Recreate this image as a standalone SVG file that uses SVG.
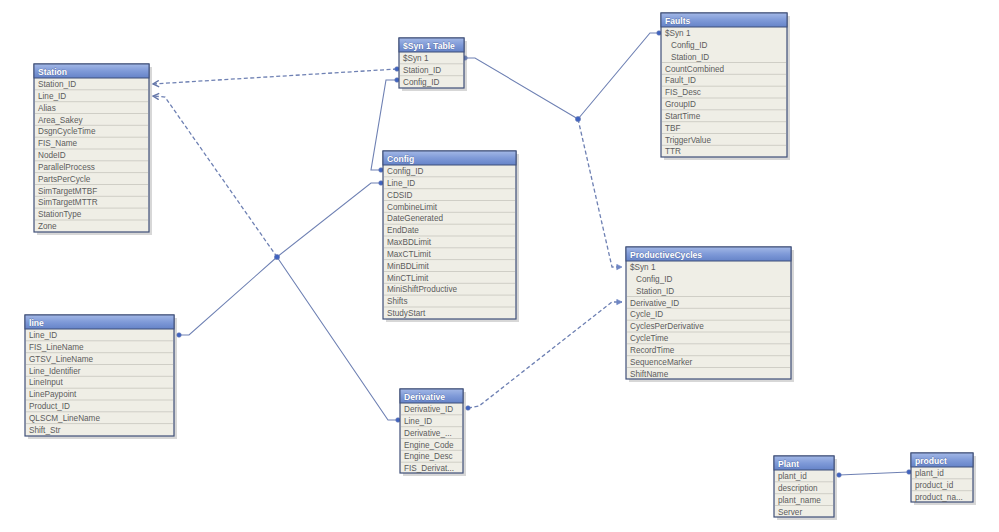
<svg xmlns="http://www.w3.org/2000/svg" width="999" height="532" viewBox="0 0 999 532">
<defs>
<linearGradient id="tg" x1="0" y1="0" x2="0" y2="1">
<stop offset="0" stop-color="#a3b8e6"/>
<stop offset="0.5" stop-color="#7f9ad8"/>
<stop offset="1" stop-color="#6583c8"/>
</linearGradient>
<marker id="arr" viewBox="0 0 8 8" refX="7" refY="4" markerWidth="8" markerHeight="8" markerUnits="userSpaceOnUse" orient="auto">
<path d="M1,0.8 L7,4 L1,7.2" fill="none" stroke="#6476a8" stroke-width="1.4"/>
</marker>
<marker id="arrf" viewBox="0 0 8 8" refX="7" refY="4" markerWidth="7" markerHeight="7" markerUnits="userSpaceOnUse" orient="auto">
<path d="M1,1 L7,4 L1,7 Z" fill="#6f86c4" stroke="#6f86c4" stroke-width="0.8"/>
</marker>
</defs>
<style>
.bg{fill:#ffffff}
.sh{fill:#9a9a9a;opacity:0.4}
.box{fill:#efeee6;stroke:#3f4f78;stroke-width:1.2}
.title{fill:url(#tg);stroke:#3f4f78;stroke-width:1}
.tt{font-family:"Liberation Sans",Arial,sans-serif;font-size:8.6px;font-weight:bold;fill:#ffffff;stroke:#3b4c7a;stroke-width:0.35;paint-order:stroke}
.rt{font-family:"Liberation Sans",Arial,sans-serif;font-size:8.2px;fill:#5c5c5c}
.sep{stroke:#cfcec6;stroke-width:1}
.ln{fill:none;stroke:#6e80b3;stroke-width:1.1}
.dl{fill:none;stroke:#6e80b3;stroke-width:1.3;stroke-dasharray:4,2.5}
.dot{fill:#3f63c0;stroke:#6e80b3;stroke-width:0.6}
</style>
<rect class="bg" x="0" y="0" width="999" height="532"/>

<g id="connectors">
<path class="dl" d="M397,69 L153,84" marker-end="url(#arr)"/>
<path class="ln" d="M397,80 L386,80 L371,170 L381,170"/>
<path class="ln" d="M179,335 L189,335 L277,257"/>
<path class="ln" d="M277,257 L371,183 L381,183"/>
<path class="ln" d="M277,257 L388,420 L398,420"/>
<path class="dl" d="M277,257 L165,97 L153,96" marker-end="url(#arr)"/>
<path class="ln" d="M465,58 L475,58 L578,119"/>
<path class="ln" d="M578,119 L650,33 L659,33"/>
<path class="dl" d="M578,119 L612,267 L622,267" marker-end="url(#arrf)"/>
<path class="dl" d="M468,408 L479,406 L612,302 L622,302" marker-end="url(#arrf)"/>
<path class="ln" d="M839,475 L909,472"/>
<circle class="dot" cx="397" cy="69" r="2.3"/>
<circle class="dot" cx="397" cy="80" r="2.3"/>
<circle class="dot" cx="381" cy="170" r="2.3"/>
<circle class="dot" cx="179" cy="335" r="2.3"/>
<circle class="dot" cx="381" cy="183" r="2.3"/>
<circle class="dot" cx="398" cy="420" r="2.3"/>
<circle class="dot" cx="277" cy="257" r="2.6"/>
<circle class="dot" cx="465" cy="58" r="2.3"/>
<circle class="dot" cx="659" cy="33" r="2.3"/>
<circle class="dot" cx="578" cy="119" r="2.6"/>
<circle class="dot" cx="468" cy="408" r="2.3"/>
<circle class="dot" cx="839" cy="475" r="2.3"/>
<circle class="dot" cx="909" cy="472" r="2.3"/>
</g>

<g id="Station">
<rect class="sh" x="37" y="67" width="115" height="168"/>
<rect class="box" x="34" y="64" width="115" height="168"/>
<rect class="title" x="34" y="64" width="115" height="14"/>
<text class="tt" x="38" y="75">Station</text>
<path class="sep" d="M35,89.8H148M35,101.7H148M35,113.5H148M35,125.3H148M35,137.2H148M35,149H148M35,160.8H148M35,172.6H148M35,184.5H148M35,196.3H148M35,208.1H148M35,220H148"/>
<text class="rt" x="38" y="87">Station_ID</text>
<text class="rt" x="38" y="98.8">Line_ID</text>
<text class="rt" x="38" y="110.7">Alias</text>
<text class="rt" x="38" y="122.5">Area_Sakey</text>
<text class="rt" x="38" y="134.3">DsgnCycleTime</text>
<text class="rt" x="38" y="146.2">FIS_Name</text>
<text class="rt" x="38" y="158">NodeID</text>
<text class="rt" x="38" y="169.8">ParallelProcess</text>
<text class="rt" x="38" y="181.6">PartsPerCycle</text>
<text class="rt" x="38" y="193.5">SimTargetMTBF</text>
<text class="rt" x="38" y="205.3">SimTargetMTTR</text>
<text class="rt" x="38" y="217.1">StationType</text>
<text class="rt" x="38" y="229">Zone</text>
</g>

<g id="Syn1Table">
<rect class="sh" x="402" y="41" width="65" height="50"/>
<rect class="box" x="399" y="38" width="65" height="50"/>
<rect class="title" x="399" y="38" width="65" height="14"/>
<text class="tt" x="403" y="49">$Syn 1 Table</text>
<path class="sep" d="M400,63.8H463M400,75.7H463"/>
<text class="rt" x="403" y="61">$Syn 1</text>
<text class="rt" x="403" y="72.8">Station_ID</text>
<text class="rt" x="403" y="84.7">Config_ID</text>
</g>

<g id="Faults">
<rect class="sh" x="664" y="16" width="126" height="144"/>
<rect class="box" x="661" y="13" width="126" height="144"/>
<rect class="title" x="661" y="13" width="126" height="14"/>
<text class="tt" x="665" y="24">Faults</text>
<path class="sep" d="M662,62.5H786M662,74.3H786M662,86.2H786M662,98H786M662,109.8H786M662,121.7H786M662,133.5H786M662,145.3H786"/>
<text class="rt" x="665" y="36">$Syn 1</text>
<text class="rt" x="671" y="47.8">Config_ID</text>
<text class="rt" x="671" y="59.7">Station_ID</text>
<text class="rt" x="665" y="71.5">CountCombined</text>
<text class="rt" x="665" y="83.3">Fault_ID</text>
<text class="rt" x="665" y="95.2">FIS_Desc</text>
<text class="rt" x="665" y="107">GroupID</text>
<text class="rt" x="665" y="118.8">StartTime</text>
<text class="rt" x="665" y="130.7">TBF</text>
<text class="rt" x="665" y="142.5">TriggerValue</text>
<text class="rt" x="665" y="154.3">TTR</text>
</g>

<g id="Config">
<rect class="sh" x="386" y="154" width="133" height="168"/>
<rect class="box" x="383" y="151" width="133" height="168"/>
<rect class="title" x="383" y="151" width="133" height="14"/>
<text class="tt" x="387" y="162">Config</text>
<path class="sep" d="M384,176.8H515M384,188.7H515M384,200.5H515M384,212.3H515M384,224.2H515M384,236H515M384,247.8H515M384,259.6H515M384,271.5H515M384,283.3H515M384,295.1H515M384,307H515"/>
<text class="rt" x="387" y="174">Config_ID</text>
<text class="rt" x="387" y="185.8">Line_ID</text>
<text class="rt" x="387" y="197.7">CDSID</text>
<text class="rt" x="387" y="209.5">CombineLimit</text>
<text class="rt" x="387" y="221.3">DateGenerated</text>
<text class="rt" x="387" y="233.2">EndDate</text>
<text class="rt" x="387" y="245">MaxBDLimit</text>
<text class="rt" x="387" y="256.8">MaxCTLimit</text>
<text class="rt" x="387" y="268.6">MinBDLimit</text>
<text class="rt" x="387" y="280.5">MinCTLimit</text>
<text class="rt" x="387" y="292.3">MiniShiftProductive</text>
<text class="rt" x="387" y="304.1">Shifts</text>
<text class="rt" x="387" y="316">StudyStart</text>
</g>

<g id="line">
<rect class="sh" x="28" y="318" width="149" height="121"/>
<rect class="box" x="25" y="315" width="149" height="121"/>
<rect class="title" x="25" y="315" width="149" height="14"/>
<text class="tt" x="29" y="326">line</text>
<path class="sep" d="M26,340.8H173M26,352.7H173M26,364.5H173M26,376.3H173M26,388.2H173M26,400H173M26,411.8H173M26,423.6H173"/>
<text class="rt" x="29" y="338">Line_ID</text>
<text class="rt" x="29" y="349.8">FIS_LineName</text>
<text class="rt" x="29" y="361.7">GTSV_LineName</text>
<text class="rt" x="29" y="373.5">Line_Identifier</text>
<text class="rt" x="29" y="385.3">LineInput</text>
<text class="rt" x="29" y="397.2">LinePaypoint</text>
<text class="rt" x="29" y="409">Product_ID</text>
<text class="rt" x="29" y="420.8">QLSCM_LineName</text>
<text class="rt" x="29" y="432.6">Shift_Str</text>
</g>

<g id="Derivative">
<rect class="sh" x="403" y="392" width="63" height="84"/>
<rect class="box" x="400" y="389" width="63" height="84"/>
<rect class="title" x="400" y="389" width="63" height="14"/>
<text class="tt" x="404" y="400">Derivative</text>
<path class="sep" d="M401,414.8H462M401,426.7H462M401,438.5H462M401,450.3H462M401,462.2H462"/>
<text class="rt" x="404" y="412">Derivative_ID</text>
<text class="rt" x="404" y="423.8">Line_ID</text>
<text class="rt" x="404" y="435.7">Derivative_...</text>
<text class="rt" x="404" y="447.5">Engine_Code</text>
<text class="rt" x="404" y="459.3">Engine_Desc</text>
<text class="rt" x="404" y="471.2">FIS_Derivat...</text>
</g>

<g id="ProductiveCycles">
<rect class="sh" x="629" y="250" width="165" height="132"/>
<rect class="box" x="626" y="247" width="165" height="132"/>
<rect class="title" x="626" y="247" width="165" height="14"/>
<text class="tt" x="630" y="258">ProductiveCycles</text>
<path class="sep" d="M627,296.5H790M627,308.3H790M627,320.2H790M627,332H790M627,343.8H790M627,355.7H790M627,367.5H790"/>
<text class="rt" x="630" y="270">$Syn 1</text>
<text class="rt" x="636" y="281.8">Config_ID</text>
<text class="rt" x="636" y="293.7">Station_ID</text>
<text class="rt" x="630" y="305.5">Derivative_ID</text>
<text class="rt" x="630" y="317.3">Cycle_ID</text>
<text class="rt" x="630" y="329.2">CyclesPerDerivative</text>
<text class="rt" x="630" y="341">CycleTime</text>
<text class="rt" x="630" y="352.8">RecordTime</text>
<text class="rt" x="630" y="364.7">SequenceMarker</text>
<text class="rt" x="630" y="376.5">ShiftName</text>
</g>

<g id="Plant">
<rect class="sh" x="777" y="459" width="60" height="61"/>
<rect class="box" x="774" y="456" width="60" height="61"/>
<rect class="title" x="774" y="456" width="60" height="14"/>
<text class="tt" x="778" y="467">Plant</text>
<path class="sep" d="M775,481.8H833M775,493.7H833M775,505.5H833"/>
<text class="rt" x="778" y="479">plant_id</text>
<text class="rt" x="778" y="490.8">description</text>
<text class="rt" x="778" y="502.7">plant_name</text>
<text class="rt" x="778" y="514.5">Server</text>
</g>

<g id="product">
<rect class="sh" x="914" y="456" width="62" height="49"/>
<rect class="box" x="911" y="453" width="62" height="49"/>
<rect class="title" x="911" y="453" width="62" height="14"/>
<text class="tt" x="915" y="464">product</text>
<path class="sep" d="M912,478.8H972M912,490.7H972"/>
<text class="rt" x="915" y="476">plant_id</text>
<text class="rt" x="915" y="487.8">product_id</text>
<text class="rt" x="915" y="499.7">product_na...</text>
</g>
</svg>
